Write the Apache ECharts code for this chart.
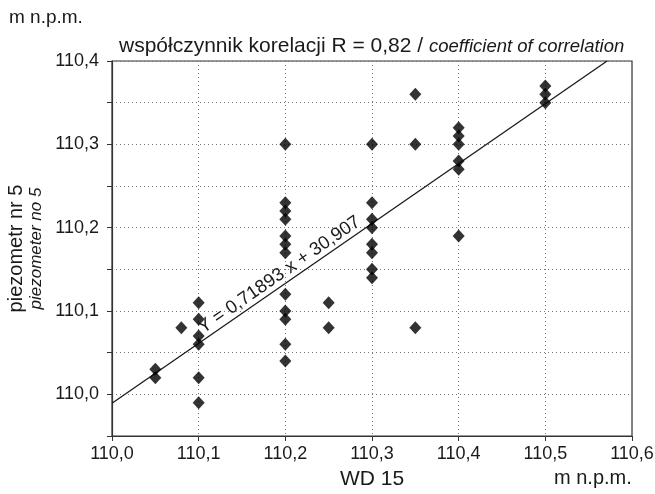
<!DOCTYPE html>
<html>
<head>
<meta charset="utf-8">
<script src="https://cdn.jsdelivr.net/npm/echarts@6/dist/echarts.min.js"></script>
<style>
  html, body { margin: 0; padding: 0; background: #fff; }
  #chart { width: 655px; height: 494px; }
</style>
</head>
<body>
<div id="chart"></div>
<script>
// WD 15 (x) i piezometr nr 5 (y), m n.p.m.
const wd15 = [
  110.05, 110.05,
  110.08,
  110.1, 110.1, 110.1, 110.1, 110.1, 110.1,
  110.2, 110.2, 110.2, 110.2, 110.2, 110.2, 110.2, 110.2, 110.2, 110.2, 110.2, 110.2,
  110.25, 110.25,
  110.3, 110.3, 110.3, 110.3, 110.3, 110.3, 110.3, 110.3,
  110.35, 110.35, 110.35,
  110.4, 110.4, 110.4, 110.4, 110.4, 110.4,
  110.5, 110.5, 110.5
];
const piezometer5 = [
  110.03, 110.02,
  110.08,
  110.11, 110.09, 110.07, 110.06, 110.02, 109.99,
  110.3, 110.23, 110.22, 110.21, 110.19, 110.18, 110.17, 110.12, 110.10, 110.09, 110.06, 110.04,
  110.11, 110.08,
  110.3, 110.23, 110.21, 110.2, 110.18, 110.17, 110.15, 110.14,
  110.36, 110.3, 110.08,
  110.32, 110.31, 110.3, 110.28, 110.27, 110.19,
  110.37, 110.36, 110.35
];

// regresja: Y = 0,71893 x + 30,907
const slope = 0.71893;
const intercept = 30.907;
const xRange = [110.0, 110.6];
const yRange = [109.95, 110.4];

const fontFamily = "'Liberation Sans', Arial, sans-serif";
const comma = (v) => v.toFixed(1).replace(".", ",");

const points = wd15.map((x, i) => [x, piezometer5[i]]);
const lineStart = [xRange[0], slope * xRange[0] + intercept];
const lineEnd = [(yRange[1] - intercept) / slope, yRange[1]];

const chart = echarts.init(document.getElementById("chart"));

const option = {
  backgroundColor: "#fff",
  animation: false,
  textStyle: { fontFamily: fontFamily },
  title: {
    text: "{a|współczynnik korelacji R = 0,82 / }{b|coefficient of correlation}",
    left: 114,
    top: 31,
    textStyle: {
      fontWeight: "normal",
      rich: {
        a: { fontSize: 21, color: "#1a1a1a", fontWeight: "normal", fontFamily: fontFamily },
        b: { fontSize: 18.5, color: "#1a1a1a", fontWeight: "normal", fontStyle: "italic", fontFamily: fontFamily }
      }
    }
  },
  grid: {
    left: 112,
    right: 23,
    top: 61,
    bottom: 58,
    outerBoundsMode: "none",
    containLabel: false,
    show: true,
    borderColor: "#333",
    borderWidth: 1.2
  },
  xAxis: {
    type: "value",
    min: xRange[0],
    max: xRange[1],
    interval: 0.1,
    name: "WD 15",
    nameLocation: "middle",
    nameGap: 33,
    nameTextStyle: { fontSize: 21, color: "#1a1a1a" },
    axisLine: { lineStyle: { color: "#333", width: 1.2 } },
    axisTick: { length: 5, lineStyle: { color: "#333" } },
    axisLabel: {
      fontSize: 18,
      color: "#1a1a1a",
      margin: 9,
      formatter: (v) => comma(v)
    },
    splitLine: {
      show: true,
      lineStyle: { color: "#777", type: [1, 3], width: 1 }
    }
  },
  yAxis: {
    type: "value",
    min: yRange[0],
    max: yRange[1],
    interval: 0.05,
    name: "{a|piezometr nr 5}\n{b|piezometer no 5}",
    nameLocation: "middle",
    nameRotate: 90,
    nameGap: 67,
    nameTextStyle: {
      rich: {
        a: { fontSize: 20, color: "#1a1a1a", lineHeight: 20, fontFamily: fontFamily },
        b: { fontSize: 17, color: "#1a1a1a", fontStyle: "italic", lineHeight: 18, fontFamily: fontFamily }
      }
    },
    axisLine: { show: true, lineStyle: { color: "#333", width: 1.2 } },
    axisTick: { show: true, length: 5, lineStyle: { color: "#333" } },
    axisLabel: {
      fontSize: 18,
      color: "#1a1a1a",
      margin: 13,
      showMinLabel: true,
      formatter: (v) => {
        const t = v * 10;
        return Math.abs(t - Math.round(t)) < 1e-6 ? comma(v) : "";
      }
    },
    splitLine: {
      show: true,
      lineStyle: { color: "#777", type: [1, 3], width: 1 }
    }
  },
  series: [
    {
      type: "line",
      data: [lineStart, lineEnd],
      symbol: "none",
      lineStyle: { color: "#1a1a1a", width: 1.3 },
      z: 2
    },
    {
      type: "scatter",
      data: points,
      symbol: "diamond",
      symbolSize: [12, 13],
      itemStyle: { color: "#000" },
      z: 3
    }
  ]
};

chart.setOption(option);

// opis linii regresji, wzdłuż linii
const p0 = chart.convertToPixel({ gridIndex: 0 }, lineStart);
const p1 = chart.convertToPixel({ gridIndex: 0 }, lineEnd);
const angle = Math.atan2(p0[1] - p1[1], p1[0] - p0[0]);
const labelX = 110.2;
const pc = chart.convertToPixel({ gridIndex: 0 }, [labelX, slope * labelX + intercept]);

chart.setOption({
  graphic: [
    {
      type: "text",
      left: 9,
      top: 8,
      style: { text: "m n.p.m.", fontSize: 19, fill: "#1a1a1a", fontFamily: fontFamily }
    },
    {
      type: "text",
      left: 554,
      top: 468,
      style: { text: "m n.p.m.", fontSize: 20, fill: "#1a1a1a", fontFamily: fontFamily }
    },
    {
      type: "text",
      x: pc[0] - 1 * Math.sin(angle),
      y: pc[1] - 1 * Math.cos(angle),
      rotation: angle,
      style: {
        text: "Y = 0,71893 x + 30,907",
        fontSize: 18.5,
        fill: "#1a1a1a",
        fontFamily: fontFamily,
        align: "center",
        verticalAlign: "bottom"
      },
      z: 10
    }
  ]
});
</script>
</body>
</html>
